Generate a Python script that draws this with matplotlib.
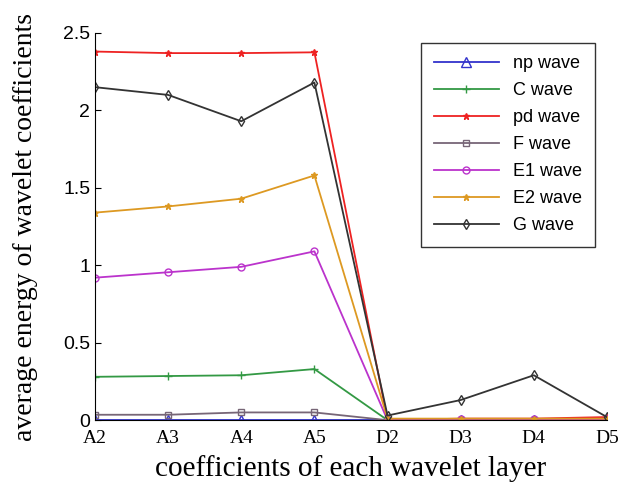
import matplotlib
matplotlib.use("Agg")
import matplotlib.pyplot as plt

layers = ["A2", "A3", "A4", "A5", "D2", "D3", "D4", "D5"]

np_wave = [0, 0, 0, 0, 0, 0, 0, 0]
c_wave = [0.28, 0.285, 0.29, 0.33, 0.0, 0.0, 0.0, 0.0]
pd_wave = [2.38, 2.37, 2.37, 2.375, 0.0, 0.01, 0.01, 0.02]
f_wave = [0.035, 0.035, 0.05, 0.05, 0.0, 0.0, 0.0, 0.0]
e1_wave = [0.92, 0.955, 0.99, 1.09, 0.0, 0.005, 0.005, 0.005]
e2_wave = [1.34, 1.38, 1.43, 1.58, 0.01, 0.01, 0.01, 0.01]
g_wave = [2.15, 2.10, 1.93, 2.18, 0.03, 0.13, 0.29, 0.02]

series = [
    ("np wave", np_wave, "#3333cc", "^", "none", 7),
    ("C wave", c_wave, "#339944", "+", "#339944", 6),
    ("pd wave", pd_wave, "#ee2222", "*", "#ee2222", 5),
    ("F wave", f_wave, "#776677", "s", "none", 5),
    ("E1 wave", e1_wave, "#bb33cc", "o", "none", 5),
    ("E2 wave", e2_wave, "#dd9922", "*", "#dd9922", 5),
    ("G wave", g_wave, "#333333", "d", "none", 5),
]

fig = plt.figure(figsize=(6.27, 4.92), dpi=100)
ax = fig.add_axes([0.1515, 0.146, 0.8165, 0.787])

x = list(range(1, len(layers) + 1))
for label, vals, color, marker, mfc, ms in series:
    ax.plot(x, vals, color=color, marker=marker, markerfacecolor=mfc,
            markeredgecolor=color, markersize=ms, linewidth=1.3, label=label)

ax.set_xlim(1, 8)
ax.set_ylim(0, 2.5)
ax.set_yticks([0, 0.5, 1, 1.5, 2, 2.5])
ax.set_yticklabels(["0", "0.5", "1", "1.5", "2", "2.5"],
                   fontfamily="Liberation Sans", fontsize=14)
ax.set_xticks(x)
ax.set_xticklabels(layers, fontfamily="Liberation Serif", fontsize=14)
ax.tick_params(axis="both", direction="in", length=4)
ax.tick_params(axis="x", length=0, pad=7)

for side in ("top", "right"):
    ax.spines[side].set_visible(False)

ax.set_xlabel("coefficients of each wavelet layer",
              fontfamily="Liberation Serif", fontsize=21, labelpad=6)
ax.set_ylabel("average energy of wavelet coefficients",
              fontfamily="Liberation Serif", fontsize=20, labelpad=18)

leg = ax.legend(loc="upper right", bbox_to_anchor=(0.949, 0.913),
                bbox_transform=fig.transFigure, fancybox=False,
                prop={"family": "Liberation Sans", "size": 13},
                handlelength=3.6, labelspacing=0.55, borderpad=0.7,
                borderaxespad=0, framealpha=1)
leg.get_frame().set_edgecolor("#333333")
leg.get_frame().set_linewidth(1.0)

fig.savefig("out.png", dpi=100)
